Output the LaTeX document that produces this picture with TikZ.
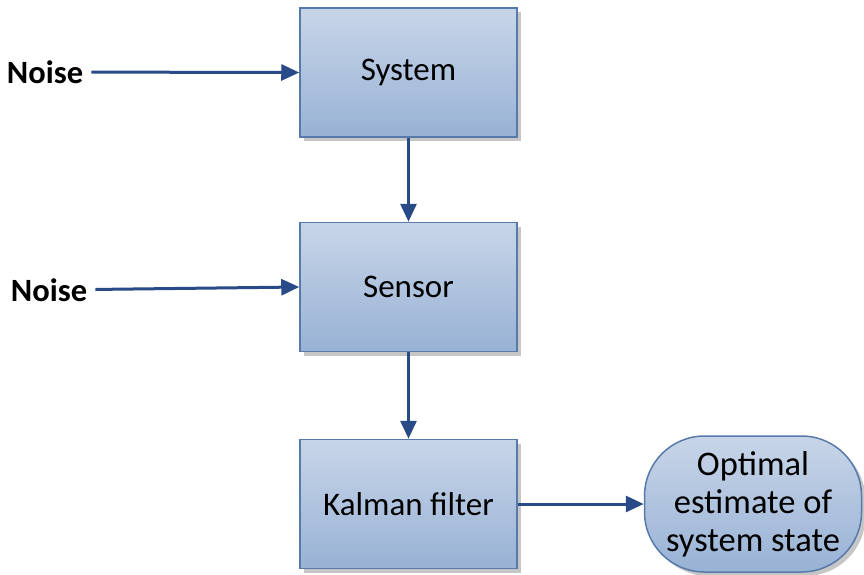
\documentclass[tikz,border=0pt]{standalone}
\usepackage{fontspec}
\setmainfont{Carlito}
\usetikzlibrary{positioning, shadows, arrows.meta}

\definecolor{boxtop}{RGB}{200,213,232}
\definecolor{boxbottom}{RGB}{152,178,213}
\definecolor{boxborder}{RGB}{88,122,170}
\definecolor{flowblue}{RGB}{40,74,134}

\tikzset{
	block/.style={draw=boxborder, line width=1.5pt, top color=boxtop, bottom color=boxbottom,
		minimum width=217pt, minimum height=129pt,
		drop shadow={shadow xshift=4pt, shadow yshift=-4pt, fill=black!50, opacity=.45},
		font=\fontsize{33}{40}\selectfont},
	estimate/.style={block, rounded corners=60pt, minimum height=136pt, align=center,
		inner sep=1pt, font=\fontsize{34.5}{38}\selectfont},
	noise/.style={font=\bfseries\fontsize{32.5}{38}\selectfont, inner sep=8pt},
	flow/.style={-{Triangle[length=18pt, width=16pt]}, line width=3pt, draw=flowblue}
}

\begin{document}
\begin{tikzpicture}[x=1pt, y=-1pt]
	\useasboundingbox (0,0) rectangle (864,574);
	% blocks
	\node[block] (system) at (408.5,72.5) {System};
	\node[block] (sensor) at (408.5,287) {Sensor};
	\node[block] (kalman) at (408.5,504) {Kalman filter};
	\node[estimate] (state) at (753,504) {Optimal\\estimate of\\system state};
	% noise inputs
	\node[noise] (noise1) at (45,72) {Noise};
	\node[noise] (noise2) at (49,290) {Noise};

	\draw[flow] (noise1) -- (system.west);
	\draw[flow] (noise2) -- (sensor.west);
	\draw[flow] (system) -- (sensor);
	\draw[flow] (sensor) -- (kalman);
	\draw[flow] (kalman) -- (state);
\end{tikzpicture}
\end{document}
